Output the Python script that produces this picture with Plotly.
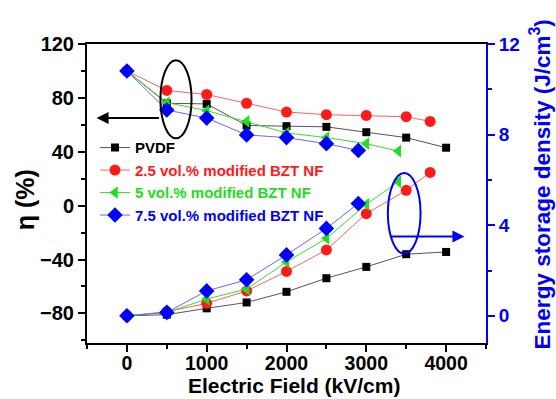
import plotly.graph_objects as go

# ---- data ----
field_pvdf = [0, 500, 1000, 1500, 2000, 2500, 3000, 3500, 4000]
eta_pvdf = [100, 76, 75.5, 59.5, 59, 58.5, 54.5, 50.5, 43]
u_pvdf = [0, 0.05, 0.33, 0.59, 1.06, 1.66, 2.16, 2.72, 2.82]

field_25 = [0, 500, 1000, 1500, 2000, 2500, 3000, 3500, 3800]
eta_25 = [100, 85.5, 82.5, 76, 69.5, 67.5, 67, 66, 62.5]
u_25 = [0, 0.18, 0.55, 1.1, 1.96, 2.91, 4.51, 5.54, 6.33]

field_5 = [0, 500, 1000, 1500, 2000, 2500, 3000, 3400]
eta_5 = [100, 76.5, 70.5, 62.5, 54, 50.5, 46, 40.5]
u_5 = [0, 0.15, 0.74, 1.18, 2.38, 3.42, 4.92, 5.92]

field_75 = [0, 500, 1000, 1500, 2000, 2500, 2900]
eta_75 = [100, 71, 65, 52.5, 50.5, 46, 41]
u_75 = [0, 0.15, 1.1, 1.59, 2.69, 3.86, 4.96]

names = ["PVDF", "2.5 vol.% modified BZT NF", "5 vol.% modified BZT NF", "7.5 vol.% modified BZT NF"]

FONT = "Liberation Sans, Arial, sans-serif"
series = [
    (field_pvdf, eta_pvdf, u_pvdf, names[0], "#000000", "#555555", "square", 8),
    (field_25, eta_25, u_25, names[1], "#ff1a1a", "#ff6060", "circle", 11),
    (field_5, eta_5, u_5, names[2], "#22dd22", "#33dd33", "triangle-left", 11),
    (field_75, eta_75, u_75, names[3], "#0000ff", "#6666ff", "diamond", 12),
]

fig = go.Figure()
for fx, eta, u, nm, col, lcol, sym, sz in series:
    fig.add_trace(go.Scatter(
        x=fx, y=eta, mode="lines+markers", yaxis="y",
        name=f'<span style="color:{col}">{nm}</span>',
        line=dict(color=lcol, width=1),
        marker=dict(symbol=sym, size=sz, color=col),
    ))
for fx, eta, u, nm, col, lcol, sym, sz in series:
    fig.add_trace(go.Scatter(
        x=fx, y=u, mode="lines+markers", yaxis="y2", showlegend=False,
        line=dict(color=lcol, width=1),
        marker=dict(symbol=sym, size=sz, color=col),
    ))

# ellipses & arrows
fig.add_shape(type="circle", xref="x", yref="y", x0=420, x1=810, y0=50, y1=108,
              line=dict(color="black", width=2))
fig.add_annotation(x=-380, y=65, ax=420, ay=65, xref="x", yref="y", axref="x", ayref="y",
                   showarrow=True, arrowhead=2, arrowsize=1.2, arrowwidth=2, arrowcolor="black", text="")
fig.add_shape(type="circle", xref="x", yref="y2", x0=3270, x1=3680, y0=2.75, y1=6.3,
              line=dict(color="#0000ff", width=2))
fig.add_annotation(x=4230, y=3.5, ax=3290, ay=3.5, xref="x", yref="y2", axref="x", ayref="y2",
                   showarrow=True, arrowhead=2, arrowsize=1.2, arrowwidth=2, arrowcolor="#0000ff", text="")

# axis titles as annotations (precise placement)
fig.add_annotation(text="Energy storage density (J/cm<sup>3</sup>)", xref="paper", yref="paper",
                   x=1.135, y=0.53, xanchor="center", yanchor="middle", textangle=-90, showarrow=False,
                   font=dict(family=FONT, size=22.5, color="#0000ff", weight="bold"))
fig.add_annotation(text="Electric Field (kV/cm)", xref="paper", yref="paper",
                   x=0.52, y=-0.186, xanchor="center", yanchor="bottom", showarrow=False,
                   font=dict(family=FONT, size=21, color="black", weight="bold"))
fig.add_annotation(text="η (%)", xref="paper", yref="paper",
                   x=-0.155, y=0.478, xanchor="center", yanchor="middle", textangle=-90, showarrow=False,
                   font=dict(family=FONT, size=25, color="black", weight="bold"))

tickfont = dict(family=FONT, size=20, color="black", weight="bold")
fig.update_layout(
    width=556, height=399,
    margin=dict(l=87, r=70, t=44, b=56, autoexpand=False),
    plot_bgcolor="white", paper_bgcolor="white",
    font=dict(family=FONT),
    xaxis=dict(
        range=[-500, 4500], tickvals=[0, 1000, 2000, 3000, 4000], automargin=False,
        ticks="outside", ticklen=7, tickwidth=2, tickcolor="black", ticklabelstandoff=-5,
        minor=dict(tickvals=[-500, 500, 1500, 2500, 3500, 4500], ticks="outside", ticklen=4, tickwidth=2, tickcolor="black"),
        showline=True, linecolor="black", linewidth=2, mirror=True,
        showgrid=False, zeroline=False, tickfont=dict(family=FONT, size=19.5, color="black", weight="bold"),
    ),
    yaxis=dict(
        range=[-102, 120], tickvals=[-80, -40, 0, 40, 80, 120], automargin=False,
        ticks="outside", ticklen=7, tickwidth=2, tickcolor="black",
        minor=dict(tickvals=[-100, -60, -20, 20, 60, 100], ticks="outside", ticklen=4, tickwidth=2, tickcolor="black"),
        showline=True, linecolor="black", linewidth=2,
        showgrid=False, zeroline=False, tickfont=tickfont,
    ),
    yaxis2=dict(
        overlaying="y", side="right", range=[-1.2, 12], tickvals=[0, 4, 8, 12], automargin=False,
        ticks="outside", ticklen=7, tickwidth=2, tickcolor="#0000ff",
        minor=dict(tickvals=[2, 6, 10], ticks="outside", ticklen=4, tickwidth=2, tickcolor="#0000ff"),
        showline=True, linecolor="#0000ff", linewidth=2,
        showgrid=False, zeroline=False,
        tickfont=dict(family=FONT, size=19, color="#0000ff", weight="bold"),
    ),
    legend=dict(x=0.02, y=0.708, xanchor="left", yanchor="top", bgcolor="rgba(0,0,0,0)",
                font=dict(family=FONT, size=15, weight="bold"), tracegroupgap=0, itemwidth=30),
    showlegend=True,
)
fig.write_html("out.html")
